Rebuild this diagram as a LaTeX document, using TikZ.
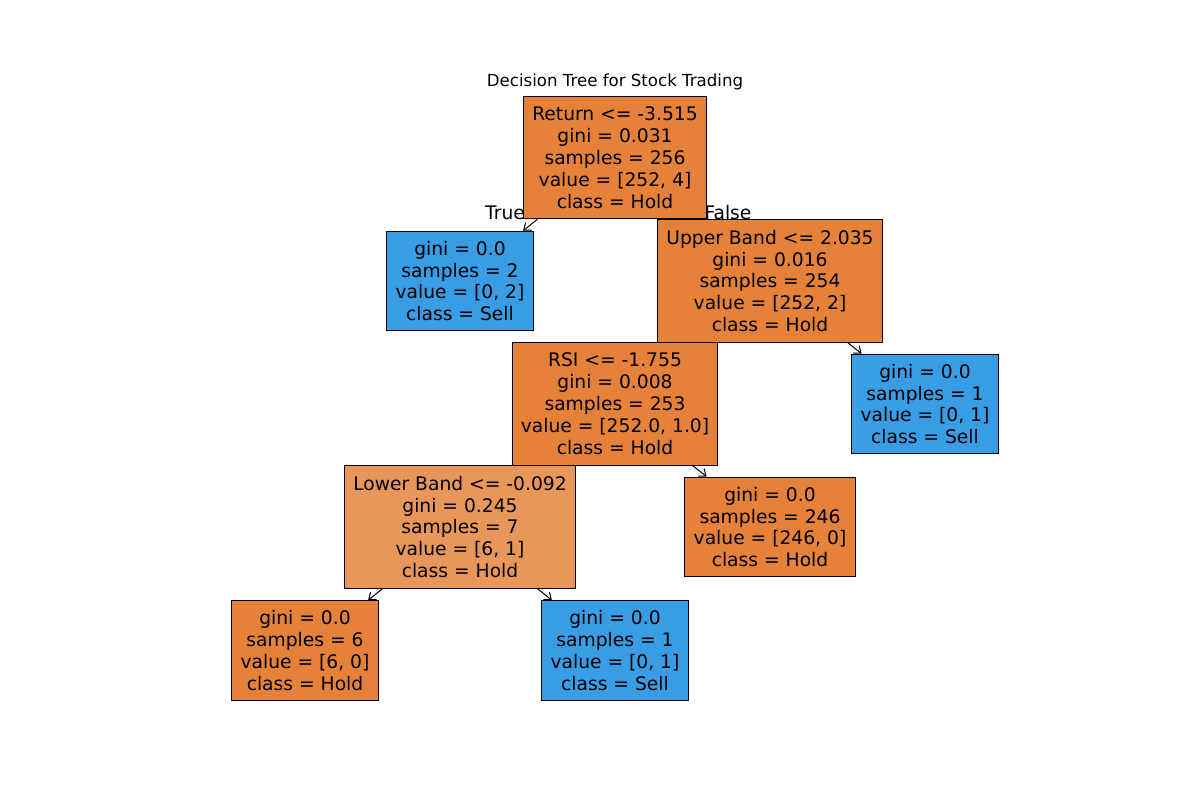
\documentclass[tikz,border=0pt]{standalone}
\usepackage{fontspec}
\setmainfont{DejaVu Sans}
\usetikzlibrary{arrows.meta, positioning, backgrounds}
\definecolor{HoldOrange}{RGB}{229,129,57}
\definecolor{MixOrange}{RGB}{233,150,90}
\definecolor{SellBlue}{RGB}{57,157,229}

\begin{document}
\begin{tikzpicture}[x=0.01in, y=-0.01in,
    treenode/.style={draw=black, line width=0.72pt, align=center, inner xsep=6.3pt, inner ysep=0pt,
                     font=\fontsize{13.5}{15.84}\selectfont},
    splitnode/.style={treenode, minimum height=88.6pt},
    leafnode/.style={treenode, minimum height=72pt},
    branchlabel/.style={font=\fontsize{13.5}{15.84}\selectfont, inner sep=0pt},
    edge/.style={line width=0.72pt, -{Straight Barb[length=4.5pt, width=7pt]}}]
  \useasboundingbox (0,0) rectangle (1200,800);

  % title and branch labels
  \node[font=\fontsize{12}{14.4}\selectfont] (title) at (615,82) {Decision Tree for Stock Trading};
  \node[branchlabel] (truelbl) at (505,213) {True};
  \node[branchlabel] (falselbl) at (728,213) {False};

  % split nodes
  \node[splitnode, fill=HoldOrange] (root) at (615,157.5)
    {Return <= -3.515\\gini = 0.031\\samples = 256\\value = [252, 4]\\class = Hold};
  \node[splitnode, fill=HoldOrange] (upper) at (770,281)
    {Upper Band <= 2.035\\gini = 0.016\\samples = 254\\value = [252, 2]\\class = Hold};
  \node[splitnode, fill=HoldOrange] (rsi) at (615,404)
    {RSI <= -1.755\\gini = 0.008\\samples = 253\\value = [252.0, 1.0]\\class = Hold};
  \node[splitnode, fill=MixOrange] (lower) at (460,527)
    {Lower Band <= -0.092\\gini = 0.245\\samples = 7\\value = [6, 1]\\class = Hold};

  % leaves
  \node[leafnode, fill=SellBlue] (sellA) at (460,281)
    {gini = 0.0\\samples = 2\\value = [0, 2]\\class = Sell};
  \node[leafnode, fill=SellBlue] (sellB) at (925,404)
    {gini = 0.0\\samples = 1\\value = [0, 1]\\class = Sell};
  \node[leafnode, fill=HoldOrange] (holdA) at (770,527)
    {gini = 0.0\\samples = 246\\value = [246, 0]\\class = Hold};
  \node[leafnode, fill=HoldOrange] (holdB) at (305,650.5)
    {gini = 0.0\\samples = 6\\value = [6, 0]\\class = Hold};
  \node[leafnode, fill=SellBlue] (sellC) at (615,650.5)
    {gini = 0.0\\samples = 1\\value = [0, 1]\\class = Sell};

  % connectors behind the boxes
  \begin{scope}[on background layer]
    \draw[edge] (root) -- (sellA);
    \draw[edge] (root) -- (upper);
    \draw[edge] (upper) -- (rsi);
    \draw[edge] (upper) -- (sellB);
    \draw[edge] (rsi) -- (lower);
    \draw[edge] (rsi) -- (holdA);
    \draw[edge] (lower) -- (holdB);
    \draw[edge] (lower) -- (sellC);
  \end{scope}
\end{tikzpicture}
\end{document}
